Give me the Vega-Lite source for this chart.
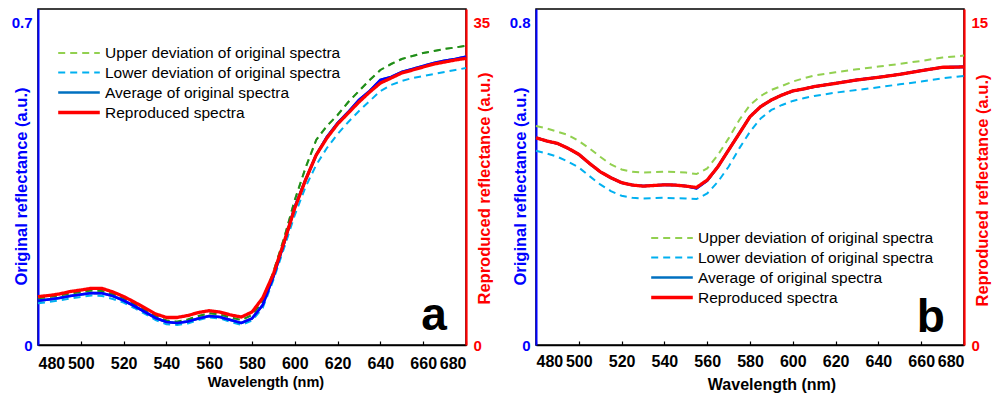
{
  "$schema": "https://vega.github.io/schema/vega-lite/v6.json",
  "background": "white",
  "padding": {"left": 10, "top": 8, "right": 0, "bottom": 0},
  "spacing": 14,
  "config": {
    "font": "Liberation Sans",
    "view": {"stroke": "#000000", "strokeWidth": 1.5},
    "axis": {"labelFont": "Liberation Sans", "titleFont": "Liberation Sans", "labelFontWeight": "bold", "titleFontWeight": "bold", "grid": false},
    "legend": {"labelFont": "Liberation Sans", "labelColor": "#000000", "labelLimit": 400}
  },
  "datasets": {
    "a": [
      {"s":"up","wl":480,"v":0.1015},{"s":"up","wl":485,"v":0.1043},{"s":"up","wl":490,"v":0.1075},{"s":"up","wl":495,"v":0.1119},{"s":"up","wl":500,"v":0.1151},{"s":"up","wl":505,"v":0.1184},{"s":"up","wl":510,"v":0.1173},{"s":"up","wl":515,"v":0.1108},{"s":"up","wl":520,"v":0.1021},{"s":"up","wl":525,"v":0.0891},{"s":"up","wl":530,"v":0.0760},{"s":"up","wl":535,"v":0.0630},{"s":"up","wl":540,"v":0.0532},{"s":"up","wl":545,"v":0.0506},{"s":"up","wl":550,"v":0.0554},{"s":"up","wl":555,"v":0.0630},{"s":"up","wl":560,"v":0.0689},{"s":"up","wl":565,"v":0.0663},{"s":"up","wl":570,"v":0.0597},{"s":"up","wl":575,"v":0.0543},{"s":"up","wl":580,"v":0.0652},{"s":"up","wl":585,"v":0.0956},{"s":"up","wl":590,"v":0.1586},{"s":"up","wl":595,"v":0.2325},{"s":"up","wl":600,"v":0.3150},{"s":"up","wl":605,"v":0.3846},{"s":"up","wl":610,"v":0.4454},{"s":"up","wl":615,"v":0.4758},{"s":"up","wl":620,"v":0.4997},{"s":"up","wl":625,"v":0.5279},{"s":"up","wl":630,"v":0.5518},{"s":"up","wl":635,"v":0.5757},{"s":"up","wl":640,"v":0.5975},{"s":"up","wl":645,"v":0.6105},{"s":"up","wl":650,"v":0.6214},{"s":"up","wl":655,"v":0.6279},{"s":"up","wl":660,"v":0.6344},{"s":"up","wl":665,"v":0.6387},{"s":"up","wl":670,"v":0.6431},{"s":"up","wl":675,"v":0.6464},{"s":"up","wl":680,"v":0.6503},
      {"s":"lo","wl":480,"v":0.0906},{"s":"lo","wl":485,"v":0.0934},{"s":"lo","wl":490,"v":0.0967},{"s":"lo","wl":495,"v":0.1010},{"s":"lo","wl":500,"v":0.1043},{"s":"lo","wl":505,"v":0.1075},{"s":"lo","wl":510,"v":0.1065},{"s":"lo","wl":515,"v":0.0999},{"s":"lo","wl":520,"v":0.0923},{"s":"lo","wl":525,"v":0.0804},{"s":"lo","wl":530,"v":0.0674},{"s":"lo","wl":535,"v":0.0543},{"s":"lo","wl":540,"v":0.0450},{"s":"lo","wl":545,"v":0.0435},{"s":"lo","wl":550,"v":0.0467},{"s":"lo","wl":555,"v":0.0543},{"s":"lo","wl":560,"v":0.0602},{"s":"lo","wl":565,"v":0.0576},{"s":"lo","wl":570,"v":0.0500},{"s":"lo","wl":575,"v":0.0435},{"s":"lo","wl":580,"v":0.0532},{"s":"lo","wl":585,"v":0.0804},{"s":"lo","wl":590,"v":0.1412},{"s":"lo","wl":595,"v":0.2107},{"s":"lo","wl":600,"v":0.2824},{"s":"lo","wl":605,"v":0.3433},{"s":"lo","wl":610,"v":0.3911},{"s":"lo","wl":615,"v":0.4280},{"s":"lo","wl":620,"v":0.4584},{"s":"lo","wl":625,"v":0.4845},{"s":"lo","wl":630,"v":0.5084},{"s":"lo","wl":635,"v":0.5301},{"s":"lo","wl":640,"v":0.5518},{"s":"lo","wl":645,"v":0.5649},{"s":"lo","wl":650,"v":0.5736},{"s":"lo","wl":655,"v":0.5801},{"s":"lo","wl":660,"v":0.5844},{"s":"lo","wl":665,"v":0.5888},{"s":"lo","wl":670,"v":0.5931},{"s":"lo","wl":675,"v":0.5975},{"s":"lo","wl":680,"v":0.6018},
      {"s":"avg","wl":480,"v":0.0962},{"s":"avg","wl":485,"v":0.0989},{"s":"avg","wl":490,"v":0.1021},{"s":"avg","wl":495,"v":0.1065},{"s":"avg","wl":500,"v":0.1097},{"s":"avg","wl":505,"v":0.1130},{"s":"avg","wl":510,"v":0.1123},{"s":"avg","wl":515,"v":0.1065},{"s":"avg","wl":520,"v":0.0967},{"s":"avg","wl":525,"v":0.0847},{"s":"avg","wl":530,"v":0.0717},{"s":"avg","wl":535,"v":0.0587},{"s":"avg","wl":540,"v":0.0500},{"s":"avg","wl":545,"v":0.0478},{"s":"avg","wl":550,"v":0.0511},{"s":"avg","wl":555,"v":0.0576},{"s":"avg","wl":560,"v":0.0630},{"s":"avg","wl":565,"v":0.0608},{"s":"avg","wl":570,"v":0.0543},{"s":"avg","wl":575,"v":0.0478},{"s":"avg","wl":580,"v":0.0576},{"s":"avg","wl":585,"v":0.0869},{"s":"avg","wl":590,"v":0.1484},{"s":"avg","wl":595,"v":0.2216},{"s":"avg","wl":600,"v":0.2998},{"s":"avg","wl":605,"v":0.3585},{"s":"avg","wl":610,"v":0.4128},{"s":"avg","wl":615,"v":0.4519},{"s":"avg","wl":620,"v":0.4823},{"s":"avg","wl":625,"v":0.5062},{"s":"avg","wl":630,"v":0.5323},{"s":"avg","wl":635,"v":0.5518},{"s":"avg","wl":640,"v":0.5757},{"s":"avg","wl":645,"v":0.5823},{"s":"avg","wl":650,"v":0.5931},{"s":"avg","wl":655,"v":0.5996},{"s":"avg","wl":660,"v":0.6062},{"s":"avg","wl":665,"v":0.6127},{"s":"avg","wl":670,"v":0.6177},{"s":"avg","wl":675,"v":0.6214},{"s":"avg","wl":680,"v":0.6264},
      {"s":"rep","wl":480,"v":5.25},{"s":"rep","wl":485,"v":5.38},{"s":"rep","wl":490,"v":5.54},{"s":"rep","wl":495,"v":5.81},{"s":"rep","wl":500,"v":5.97},{"s":"rep","wl":505,"v":6.16},{"s":"rep","wl":510,"v":6.14},{"s":"rep","wl":515,"v":5.76},{"s":"rep","wl":520,"v":5.27},{"s":"rep","wl":525,"v":4.67},{"s":"rep","wl":530,"v":4.02},{"s":"rep","wl":535,"v":3.37},{"s":"rep","wl":540,"v":2.99},{"s":"rep","wl":545,"v":2.99},{"s":"rep","wl":550,"v":3.20},{"s":"rep","wl":555,"v":3.53},{"s":"rep","wl":560,"v":3.73},{"s":"rep","wl":565,"v":3.58},{"s":"rep","wl":570,"v":3.26},{"s":"rep","wl":575,"v":3.04},{"s":"rep","wl":580,"v":3.58},{"s":"rep","wl":585,"v":5.11},{"s":"rep","wl":590,"v":7.71},{"s":"rep","wl":595,"v":11.19},{"s":"rep","wl":600,"v":14.88},{"s":"rep","wl":605,"v":17.92},{"s":"rep","wl":610,"v":20.64},{"s":"rep","wl":615,"v":22.49},{"s":"rep","wl":620,"v":24.01},{"s":"rep","wl":625,"v":25.20},{"s":"rep","wl":630,"v":26.40},{"s":"rep","wl":635,"v":27.48},{"s":"rep","wl":640,"v":28.46},{"s":"rep","wl":645,"v":29.00},{"s":"rep","wl":650,"v":29.55},{"s":"rep","wl":655,"v":29.87},{"s":"rep","wl":660,"v":30.20},{"s":"rep","wl":665,"v":30.52},{"s":"rep","wl":670,"v":30.74},{"s":"rep","wl":675,"v":30.96},{"s":"rep","wl":680,"v":31.14}
    ],
    "b": [
      {"s":"up","wl":480,"v":0.5436},{"s":"up","wl":485,"v":0.5377},{"s":"up","wl":490,"v":0.5295},{"s":"up","wl":495,"v":0.5213},{"s":"up","wl":500,"v":0.5063},{"s":"up","wl":505,"v":0.4880},{"s":"up","wl":510,"v":0.4673},{"s":"up","wl":515,"v":0.4482},{"s":"up","wl":520,"v":0.4358},{"s":"up","wl":525,"v":0.4300},{"s":"up","wl":530,"v":0.4283},{"s":"up","wl":535,"v":0.4290},{"s":"up","wl":540,"v":0.4300},{"s":"up","wl":545,"v":0.4295},{"s":"up","wl":550,"v":0.4283},{"s":"up","wl":555,"v":0.4243},{"s":"up","wl":560,"v":0.4382},{"s":"up","wl":565,"v":0.4716},{"s":"up","wl":570,"v":0.5128},{"s":"up","wl":575,"v":0.5586},{"s":"up","wl":580,"v":0.5958},{"s":"up","wl":585,"v":0.6182},{"s":"up","wl":590,"v":0.6331},{"s":"up","wl":595,"v":0.6431},{"s":"up","wl":600,"v":0.6538},{"s":"up","wl":605,"v":0.6620},{"s":"up","wl":610,"v":0.6687},{"s":"up","wl":620,"v":0.6769},{"s":"up","wl":630,"v":0.6843},{"s":"up","wl":640,"v":0.6911},{"s":"up","wl":650,"v":0.6977},{"s":"up","wl":660,"v":0.7052},{"s":"up","wl":670,"v":0.7134},{"s":"up","wl":680,"v":0.7184},
      {"s":"lo","wl":480,"v":0.4822},{"s":"lo","wl":485,"v":0.4755},{"s":"lo","wl":490,"v":0.4673},{"s":"lo","wl":495,"v":0.4549},{"s":"lo","wl":500,"v":0.4407},{"s":"lo","wl":505,"v":0.4193},{"s":"lo","wl":510,"v":0.3985},{"s":"lo","wl":515,"v":0.3821},{"s":"lo","wl":520,"v":0.3704},{"s":"lo","wl":525,"v":0.3654},{"s":"lo","wl":530,"v":0.3637},{"s":"lo","wl":535,"v":0.3645},{"s":"lo","wl":540,"v":0.3654},{"s":"lo","wl":545,"v":0.3645},{"s":"lo","wl":550,"v":0.3637},{"s":"lo","wl":555,"v":0.3622},{"s":"lo","wl":560,"v":0.3761},{"s":"lo","wl":565,"v":0.4052},{"s":"lo","wl":570,"v":0.4425},{"s":"lo","wl":575,"v":0.4880},{"s":"lo","wl":580,"v":0.5295},{"s":"lo","wl":585,"v":0.5625},{"s":"lo","wl":590,"v":0.5834},{"s":"lo","wl":595,"v":0.5958},{"s":"lo","wl":600,"v":0.6058},{"s":"lo","wl":605,"v":0.6123},{"s":"lo","wl":610,"v":0.6182},{"s":"lo","wl":620,"v":0.6264},{"s":"lo","wl":630,"v":0.6331},{"s":"lo","wl":640,"v":0.6396},{"s":"lo","wl":650,"v":0.6471},{"s":"lo","wl":660,"v":0.6538},{"s":"lo","wl":670,"v":0.6620},{"s":"lo","wl":680,"v":0.6679},
      {"s":"avg","wl":480,"v":0.5146},{"s":"avg","wl":485,"v":0.5063},{"s":"avg","wl":490,"v":0.5004},{"s":"avg","wl":495,"v":0.4880},{"s":"avg","wl":500,"v":0.4730},{"s":"avg","wl":505,"v":0.4507},{"s":"avg","wl":510,"v":0.4300},{"s":"avg","wl":515,"v":0.4151},{"s":"avg","wl":520,"v":0.4027},{"s":"avg","wl":525,"v":0.3970},{"s":"avg","wl":530,"v":0.3945},{"s":"avg","wl":535,"v":0.3960},{"s":"avg","wl":540,"v":0.3977},{"s":"avg","wl":545,"v":0.3970},{"s":"avg","wl":550,"v":0.3945},{"s":"avg","wl":555,"v":0.3890},{"s":"avg","wl":560,"v":0.4080},{"s":"avg","wl":565,"v":0.4425},{"s":"avg","wl":570,"v":0.4840},{"s":"avg","wl":575,"v":0.5253},{"s":"avg","wl":580,"v":0.5668},{"s":"avg","wl":585,"v":0.5916},{"s":"avg","wl":590,"v":0.6083},{"s":"avg","wl":595,"v":0.6207},{"s":"avg","wl":600,"v":0.6306},{"s":"avg","wl":605,"v":0.6356},{"s":"avg","wl":610,"v":0.6413},{"s":"avg","wl":620,"v":0.6495},{"s":"avg","wl":630,"v":0.6580},{"s":"avg","wl":640,"v":0.6645},{"s":"avg","wl":650,"v":0.6719},{"s":"avg","wl":660,"v":0.6811},{"s":"avg","wl":670,"v":0.6893},{"s":"avg","wl":680,"v":0.6903},
      {"s":"rep","wl":480,"v":9.64},{"s":"rep","wl":485,"v":9.49},{"s":"rep","wl":490,"v":9.38},{"s":"rep","wl":495,"v":9.15},{"s":"rep","wl":500,"v":8.87},{"s":"rep","wl":505,"v":8.45},{"s":"rep","wl":510,"v":8.06},{"s":"rep","wl":515,"v":7.78},{"s":"rep","wl":520,"v":7.55},{"s":"rep","wl":525,"v":7.44},{"s":"rep","wl":530,"v":7.39},{"s":"rep","wl":535,"v":7.42},{"s":"rep","wl":540,"v":7.45},{"s":"rep","wl":545,"v":7.44},{"s":"rep","wl":550,"v":7.39},{"s":"rep","wl":555,"v":7.33},{"s":"rep","wl":560,"v":7.67},{"s":"rep","wl":565,"v":8.29},{"s":"rep","wl":570,"v":9.07},{"s":"rep","wl":575,"v":9.84},{"s":"rep","wl":580,"v":10.62},{"s":"rep","wl":585,"v":11.09},{"s":"rep","wl":590,"v":11.40},{"s":"rep","wl":595,"v":11.63},{"s":"rep","wl":600,"v":11.82},{"s":"rep","wl":605,"v":11.91},{"s":"rep","wl":610,"v":12.02},{"s":"rep","wl":620,"v":12.17},{"s":"rep","wl":630,"v":12.33},{"s":"rep","wl":640,"v":12.45},{"s":"rep","wl":650,"v":12.59},{"s":"rep","wl":660,"v":12.76},{"s":"rep","wl":670,"v":12.92},{"s":"rep","wl":675,"v":12.92},{"s":"rep","wl":680,"v":12.94}
    ]
  },
  "hconcat": [
    {
      "width": 428, "height": 336,
      "data": {"name": "a"},
      "encoding": {
        "x": {"field": "wl", "type": "quantitative", "scale": {"domain": [480, 680], "nice": false, "zero": false},
          "axis": {"values": [480,500,520,540,560,580,600,620,640,660,680], "title": "Wavelength (nm)", "labelFlush": true, "labelOverlap": false, "tickSize": -4, "tickColor": "#000000", "tickWidth": 1.2, "domainColor": "#000000", "domainWidth": 1.5, "labelFontSize": 16, "labelColor": "#000000", "labelPadding": 14, "titleFontSize": 14.5, "titleColor": "#000000", "titleX": 227.5, "titleY": 41, "titleBaseline": "alphabetic"}}
      },
      "layer": [
        {
          "layer": [
            {
              "transform": [{"filter": "datum.s !== 'rep'"}],
              "mark": {"type": "line"},
              "encoding": {
                "y": {"field": "v", "type": "quantitative", "scale": {"domain": [0, 0.73], "nice": false},
                  "axis": {"orient": "left", "values": [0, 0.7], "labelExpr": "'' + datum.value", "title": "Original reflectance (a.u.)", "ticks": false, "domainColor": "#0000ff", "domainWidth": 2, "labelColor": "#0000ff", "labelFontSize": 15, "labelPadding": 6, "titleColor": "#0000ff", "titleFontSize": 16.5, "titleAngle": 270, "titleBaseline": "bottom", "titleAlign": "center", "titleX": -9, "titleY": 177}},
                "color": {"field": "s", "type": "nominal", "scale": {"domain": ["up","lo","avg","rep"], "range": ["#92d050","#00b0f0","#0070c0","#ff0000"]},
                  "legend": {"title": null, "orient": "none", "legendX": 31, "legendY": 35, "padding": 0, "symbolType": "M-2.6,0H2.6", "symbolSize": 256, "labelFontSize": 15.5, "labelOffset": 16, "rowPadding": 1.5, "labelExpr": "{'up':'Upper deviation of original spectra','lo':'Lower deviation of original spectra','avg':'Average of original spectra','rep':'Reproduced spectra'}[datum.value]"}},
                "strokeDash": {"field": "s", "type": "nominal", "scale": {"domain": ["up","lo","avg","rep"], "range": [[7,5],[7,5],[1,0],[1,0]]},
                  "legend": {"title": null, "orient": "none", "legendX": 31, "legendY": 35, "padding": 0, "symbolType": "M-2.6,0H2.6", "symbolSize": 256, "labelFontSize": 15.5, "labelOffset": 16, "rowPadding": 1.5, "labelExpr": "{'up':'Upper deviation of original spectra','lo':'Lower deviation of original spectra','avg':'Average of original spectra','rep':'Reproduced spectra'}[datum.value]"}},
                "strokeWidth": {"field": "s", "type": "ordinal", "scale": {"type": "ordinal", "domain": ["up","lo","avg","rep"], "range": [2,2,2.6,3.3]},
                  "legend": {"title": null, "orient": "none", "legendX": 31, "legendY": 35, "padding": 0, "symbolType": "M-2.6,0H2.6", "symbolSize": 256, "labelFontSize": 15.5, "labelOffset": 16, "rowPadding": 1.5, "labelExpr": "{'up':'Upper deviation of original spectra','lo':'Lower deviation of original spectra','avg':'Average of original spectra','rep':'Reproduced spectra'}[datum.value]"}}
              }
            },
            {
              "transform": [{"filter": "datum.s === 'up'"}],
              "mark": {"type": "line", "color": "#1e8c1e", "strokeDash": [7,5], "strokeWidth": 2},
              "encoding": {"y": {"field": "v", "type": "quantitative"}}
            },
            {
              "transform": [{"filter": "datum.s === 'avg'"}],
              "mark": {"type": "line", "color": "#0000ff", "strokeWidth": 2.6},
              "encoding": {"y": {"field": "v", "type": "quantitative"}}
            },
            {
              "transform": [{"filter": "datum.s === 'rep' && datum.wl === 680"}],
              "mark": {"type": "text", "text": "a", "fontSize": 46, "fontWeight": "bold", "align": "right", "baseline": "alphabetic", "color": "#000000", "font": "Liberation Sans"},
              "encoding": {
                "x": {"datum": 671},
                "y": {"datum": 0.0326}
              }
            }
          ]
        },
        {
          "transform": [{"filter": "datum.s === 'rep'"}],
          "mark": {"type": "line"},
          "encoding": {
            "y": {"field": "v", "type": "quantitative", "scale": {"domain": [0, 36.5], "nice": false},
              "axis": {"orient": "right", "values": [0, 35], "labelExpr": "'' + datum.value", "title": "Reproduced reflectance (a.u.)", "ticks": false, "domainColor": "#ff0000", "domainWidth": 2.2, "labelColor": "#ff0000", "labelFontSize": 15, "labelPadding": 7, "titleColor": "#ff0000", "titleFontSize": 16.5, "titleAngle": 270, "titleBaseline": "bottom", "titleAlign": "center", "titleX": 26, "titleY": 179}},
            "color": {"field": "s", "type": "nominal", "scale": {"domain": ["up","lo","avg","rep"], "range": ["#92d050","#00b0f0","#0070c0","#ff0000"]},
              "legend": {"title": null, "orient": "none", "legendX": 31, "legendY": 35, "padding": 0, "symbolType": "M-2.6,0H2.6", "symbolSize": 256, "labelFontSize": 15.5, "labelOffset": 16, "rowPadding": 1.5, "labelExpr": "{'up':'Upper deviation of original spectra','lo':'Lower deviation of original spectra','avg':'Average of original spectra','rep':'Reproduced spectra'}[datum.value]"}},
            "strokeDash": {"field": "s", "type": "nominal", "scale": {"domain": ["up","lo","avg","rep"], "range": [[7,5],[7,5],[1,0],[1,0]]},
              "legend": {"title": null, "orient": "none", "legendX": 31, "legendY": 35, "padding": 0, "symbolType": "M-2.6,0H2.6", "symbolSize": 256, "labelFontSize": 15.5, "labelOffset": 16, "rowPadding": 1.5, "labelExpr": "{'up':'Upper deviation of original spectra','lo':'Lower deviation of original spectra','avg':'Average of original spectra','rep':'Reproduced spectra'}[datum.value]"}},
            "strokeWidth": {"field": "s", "type": "ordinal", "scale": {"type": "ordinal", "domain": ["up","lo","avg","rep"], "range": [2,2,2.6,3.3]},
              "legend": {"title": null, "orient": "none", "legendX": 31, "legendY": 35, "padding": 0, "symbolType": "M-2.6,0H2.6", "symbolSize": 256, "labelFontSize": 15.5, "labelOffset": 16, "rowPadding": 1.5, "labelExpr": "{'up':'Upper deviation of original spectra','lo':'Lower deviation of original spectra','avg':'Average of original spectra','rep':'Reproduced spectra'}[datum.value]"}}
          }
        }
      ],
      "resolve": {"scale": {"y": "independent"}}
    },
    {
      "width": 428, "height": 336,
      "data": {"name": "b"},
      "encoding": {
        "x": {"field": "wl", "type": "quantitative", "scale": {"domain": [480, 680], "nice": false, "zero": false},
          "axis": {"values": [480,500,520,540,560,580,600,620,640,660,680], "title": "Wavelength (nm)", "labelFlush": true, "labelOverlap": false, "tickSize": -4, "tickColor": "#000000", "tickWidth": 1.2, "domainColor": "#000000", "domainWidth": 1.5, "labelFontSize": 16, "labelColor": "#000000", "labelPadding": 12, "titleFontSize": 16, "titleColor": "#000000", "titleX": 235.5, "titleY": 44, "titleBaseline": "alphabetic"}}
      },
      "layer": [
        {
          "layer": [
            {
              "transform": [{"filter": "datum.s !== 'rep'"}],
              "mark": {"type": "line"},
              "encoding": {
                "y": {"field": "v", "type": "quantitative", "scale": {"domain": [0, 0.834], "nice": false},
                  "axis": {"orient": "left", "values": [0, 0.8], "labelExpr": "'' + datum.value", "title": "Original reflectance (a.u.)", "ticks": false, "domainColor": "#0000ff", "domainWidth": 2, "labelColor": "#0000ff", "labelFontSize": 15, "labelPadding": 6, "titleColor": "#0000ff", "titleFontSize": 16.5, "titleAngle": 270, "titleBaseline": "bottom", "titleAlign": "center", "titleX": -8, "titleY": 177}},
                "color": {"field": "s", "type": "nominal", "scale": {"domain": ["up","lo","avg","rep"], "range": ["#92d050","#00b0f0","#0070c0","#ff0000"]},
                  "legend": {"title": null, "orient": "none", "legendX": 126, "legendY": 220, "padding": 0, "symbolType": "M-2.6,0H2.6", "symbolSize": 256, "labelFontSize": 15.5, "labelOffset": 16, "rowPadding": 1.5, "labelExpr": "{'up':'Upper deviation of original spectra','lo':'Lower deviation of original spectra','avg':'Average of original spectra','rep':'Reproduced spectra'}[datum.value]"}},
                "strokeDash": {"field": "s", "type": "nominal", "scale": {"domain": ["up","lo","avg","rep"], "range": [[7,5],[7,5],[1,0],[1,0]]},
                  "legend": {"title": null, "orient": "none", "legendX": 126, "legendY": 220, "padding": 0, "symbolType": "M-2.6,0H2.6", "symbolSize": 256, "labelFontSize": 15.5, "labelOffset": 16, "rowPadding": 1.5, "labelExpr": "{'up':'Upper deviation of original spectra','lo':'Lower deviation of original spectra','avg':'Average of original spectra','rep':'Reproduced spectra'}[datum.value]"}},
                "strokeWidth": {"field": "s", "type": "ordinal", "scale": {"type": "ordinal", "domain": ["up","lo","avg","rep"], "range": [2,2,2.6,3.3]},
                  "legend": {"title": null, "orient": "none", "legendX": 126, "legendY": 220, "padding": 0, "symbolType": "M-2.6,0H2.6", "symbolSize": 256, "labelFontSize": 15.5, "labelOffset": 16, "rowPadding": 1.5, "labelExpr": "{'up':'Upper deviation of original spectra','lo':'Lower deviation of original spectra','avg':'Average of original spectra','rep':'Reproduced spectra'}[datum.value]"}}
              }
            },
            {
              "transform": [{"filter": "datum.s === 'avg'"}],
              "mark": {"type": "line", "color": "#0000ff", "strokeWidth": 2.6},
              "encoding": {"y": {"field": "v", "type": "quantitative"}}
            },
            {
              "transform": [{"filter": "datum.s === 'rep' && datum.wl === 680"}],
              "mark": {"type": "text", "text": "b", "fontSize": 46, "fontWeight": "bold", "align": "right", "baseline": "alphabetic", "color": "#000000", "font": "Liberation Sans"},
              "encoding": {
                "x": {"datum": 671},
                "y": {"datum": 0.0323}
              }
            }
          ]
        },
        {
          "transform": [{"filter": "datum.s === 'rep'"}],
          "mark": {"type": "line"},
          "encoding": {
            "y": {"field": "v", "type": "quantitative", "scale": {"domain": [0, 15.63], "nice": false},
              "axis": {"orient": "right", "values": [0, 15], "labelExpr": "'' + datum.value", "title": "Reproduced reflectance (a.u.)", "ticks": false, "domainColor": "#ff0000", "domainWidth": 2.2, "labelColor": "#ff0000", "labelFontSize": 15, "labelPadding": 7, "titleColor": "#ff0000", "titleFontSize": 16.5, "titleAngle": 270, "titleBaseline": "bottom", "titleAlign": "center", "titleX": 26, "titleY": 181}},
            "color": {"field": "s", "type": "nominal", "scale": {"domain": ["up","lo","avg","rep"], "range": ["#92d050","#00b0f0","#0070c0","#ff0000"]},
              "legend": {"title": null, "orient": "none", "legendX": 126, "legendY": 220, "padding": 0, "symbolType": "M-2.6,0H2.6", "symbolSize": 256, "labelFontSize": 15.5, "labelOffset": 16, "rowPadding": 1.5, "labelExpr": "{'up':'Upper deviation of original spectra','lo':'Lower deviation of original spectra','avg':'Average of original spectra','rep':'Reproduced spectra'}[datum.value]"}},
            "strokeDash": {"field": "s", "type": "nominal", "scale": {"domain": ["up","lo","avg","rep"], "range": [[7,5],[7,5],[1,0],[1,0]]},
              "legend": {"title": null, "orient": "none", "legendX": 126, "legendY": 220, "padding": 0, "symbolType": "M-2.6,0H2.6", "symbolSize": 256, "labelFontSize": 15.5, "labelOffset": 16, "rowPadding": 1.5, "labelExpr": "{'up':'Upper deviation of original spectra','lo':'Lower deviation of original spectra','avg':'Average of original spectra','rep':'Reproduced spectra'}[datum.value]"}},
            "strokeWidth": {"field": "s", "type": "ordinal", "scale": {"type": "ordinal", "domain": ["up","lo","avg","rep"], "range": [2,2,2.6,3.3]},
              "legend": {"title": null, "orient": "none", "legendX": 126, "legendY": 220, "padding": 0, "symbolType": "M-2.6,0H2.6", "symbolSize": 256, "labelFontSize": 15.5, "labelOffset": 16, "rowPadding": 1.5, "labelExpr": "{'up':'Upper deviation of original spectra','lo':'Lower deviation of original spectra','avg':'Average of original spectra','rep':'Reproduced spectra'}[datum.value]"}}
          }
        }
      ],
      "resolve": {"scale": {"y": "independent"}}
    }
  ],
  "resolve": {
    "scale": {"x": "independent", "y": "independent", "color": "independent", "strokeDash": "independent", "strokeWidth": "independent"},
    "legend": {"color": "independent", "strokeDash": "independent", "strokeWidth": "independent"}
  }
}
